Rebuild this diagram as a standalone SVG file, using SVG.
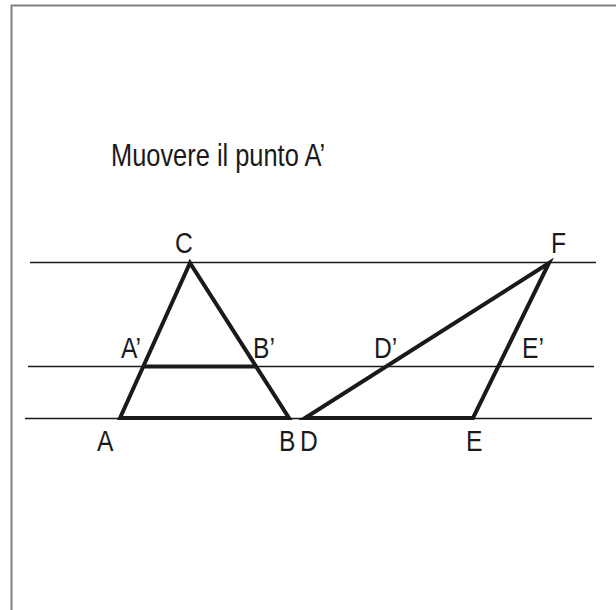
<svg xmlns="http://www.w3.org/2000/svg" width="616" height="610" viewBox="0 0 616 610">
  <style>
    .frame { stroke: #808080; stroke-width: 2; fill: none; }
    .thin { stroke: #1a1a1a; stroke-width: 1.6; fill: none; }
    .thick { stroke: #1a1a1a; stroke-width: 4; fill: none; stroke-linejoin: miter; }
    text { font-family: "Liberation Sans", Arial, sans-serif; font-size: 30px; fill: #1a1a1a; }
    .title { font-size: 31px; }
  </style>
  <rect width="616" height="610" fill="#ffffff"/>
  <g id="frame">
    <polyline class="frame" points="11.5,610 11.5,5.5 616,5.5"/>
  </g>
  <text id="title" class="title" transform="translate(111 166) scale(0.82 1)">Muovere il punto A’</text>
  <g id="parallels">
    <line class="thin" x1="30" y1="262.5" x2="596" y2="262.5"/>
    <line class="thin" x1="28" y1="366.5" x2="594" y2="366.5"/>
    <line class="thin" x1="25" y1="418.5" x2="592" y2="418.5"/>
  </g>
  <g id="triangle-ABC">
    <polygon class="thick" points="120,418 190,263 289,418"/>
    <line class="thick" x1="143.5" y1="366.5" x2="256" y2="366.5"/>
  </g>
  <g id="triangle-DEF">
    <polygon class="thick" points="305,418 473,418 549,263"/>
  </g>
  <g id="labels">
    <text transform="translate(175 252.5) scale(0.82 1)">C</text>
    <text transform="translate(551 252.5) scale(0.82 1)">F</text>
    <text transform="translate(121 358) scale(0.82 1)">A’</text>
    <text transform="translate(253 358) scale(0.82 1)">B’</text>
    <text transform="translate(374 358) scale(0.82 1)">D’</text>
    <text transform="translate(522 358) scale(0.82 1)">E’</text>
    <text transform="translate(97 451) scale(0.82 1)">A</text>
    <text transform="translate(279 451) scale(0.82 1)">B</text>
    <text transform="translate(300 451) scale(0.82 1)">D</text>
    <text transform="translate(466 451) scale(0.82 1)">E</text>
  </g>
</svg>
